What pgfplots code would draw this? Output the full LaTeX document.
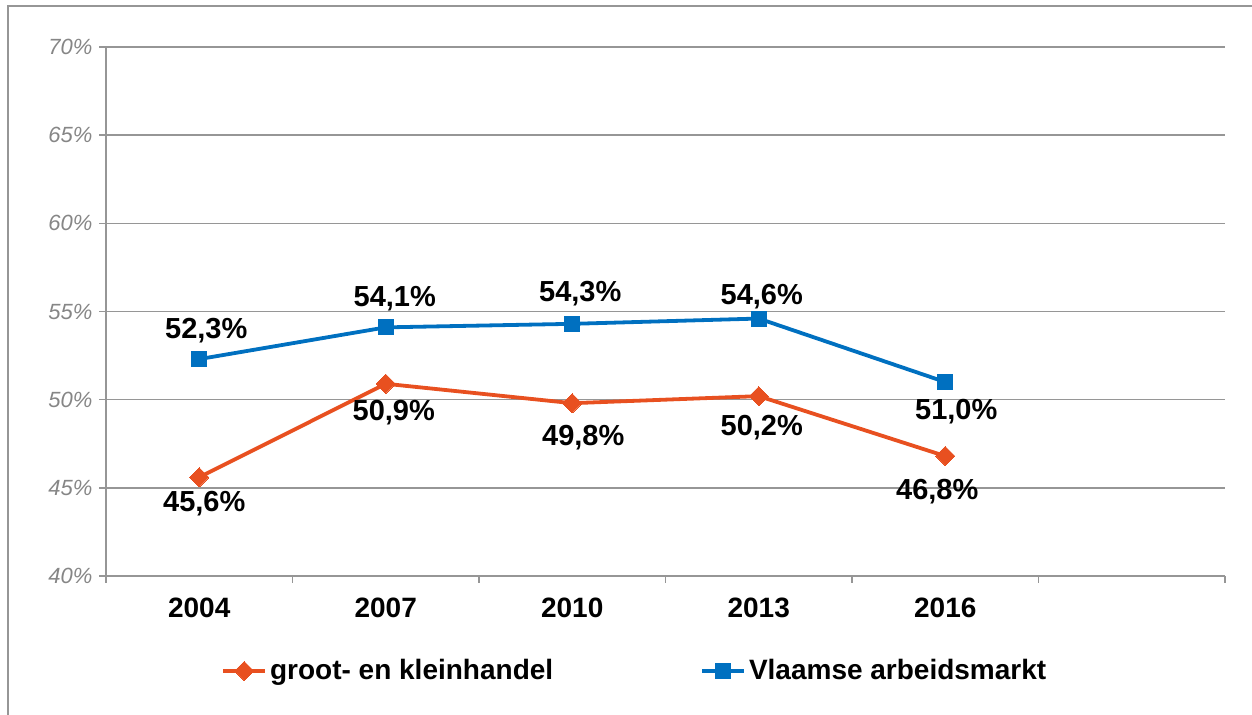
\documentclass[border=0pt]{standalone}
\usepackage{pgfplots}
\pgfplotsset{compat=1.18}
\usepackage{fontspec}
\setmainfont{Liberation Sans}

\definecolor{oranje}{RGB}{232,80,32}
\definecolor{blauw}{RGB}{0,112,192}
\definecolor{rooster}{RGB}{150,150,150}
\definecolor{labelgrijs}{RGB}{134,134,134}

% x = jaar (0 = 2004), y = aandeel in %, dx/dy = verschuiving van het label (pt)
\pgfplotstableread{
x y dx dy
0 52.3 3.5 14
1 54.1 4.5 14.5
2 54.3 4 15
3 54.6 1.5 11
4 51.0 5.5 -15
}\vlaams

\pgfplotstableread{
x y dx dy
0 45.6 2.5 -13
1 50.9 4 -14.5
2 49.8 5.5 -17
3 50.2 1.5 -15.5
4 46.8 -4 -18
}\handel

\begin{document}
\begin{tikzpicture}
\useasboundingbox (0,0) rectangle (626pt,357.5pt);
\draw[rooster, line width=0.75pt] (4pt,0) -- (4pt,354.5pt) -- (626pt,354.5pt);
\begin{axis}[
    at={(53pt,69.5pt)}, anchor=south west,
    scale only axis, width=559.5pt, height=264.5pt,
    xmin=-0.5, xmax=5.5, ymin=40, ymax=70,
    axis x line*=bottom, axis y line*=left,
    axis line style={rooster, line width=0.75pt, -},
    tick align=outside,
    xtick={-0.5,0.5,...,5.5},
    xticklabels={},
    extra x ticks={0,1,2,3,4},
    extra x tick labels={2004,2007,2010,2013,2016},
    extra x tick style={major tick length=0pt, grid=none},
    ytick={40,45,...,70},
    yticklabels={40\%,45\%,50\%,55\%,60\%,65\%,70\%},
    major tick length=3.3pt,
    tick style={rooster, line width=0.75pt},
    ymajorgrids,
    grid style={rooster, line width=0.75pt},
    xticklabel style={font=\fontsize{14}{16}\selectfont\bfseries, text=black, yshift=-7.5pt},
    yticklabel style={font=\fontsize{11}{13}\selectfont\itshape, text=labelgrijs},
    legend style={draw=none, fill=none, at={(0.473,-0.1796)}, anchor=center,
        legend columns=2, font=\fontsize{14}{16}\selectfont\bfseries,
        /tikz/every even column/.append style={column sep=72pt},
        nodes={inner sep=1.5pt}},
    legend image code/.code={\draw[#1, mark repeat=2, mark phase=2]
        plot coordinates {(0pt,0pt) (10.5pt,0pt) (21pt,0pt)};},
    nodes near coords={\pgfmathprintnumber[fixed, fixed zerofill, precision=1, use comma, assume math mode=true]{\pgfplotspointmeta}\%},
    visualization depends on={\thisrow{dx} \as \dx},
    visualization depends on={\thisrow{dy} \as \dy},
    every node near coord/.append style={anchor=center, xshift=\dx pt, yshift=\dy pt,
        font=\fontsize{14.5}{16}\selectfont\bfseries, text=black},
]
\addplot[oranje, line width=1.9pt, mark=square*, mark size=3.4pt,
    mark options={solid, rotate=45, fill=oranje, draw=oranje, line width=0pt}]
    table[x=x, y=y] {\handel};
\addlegendentry{groot- en kleinhandel}
\addplot[blauw, line width=1.9pt, mark=square*, mark size=3.75pt,
    mark options={solid, fill=blauw, draw=blauw, line width=0pt}]
    table[x=x, y=y] {\vlaams};
\addlegendentry{Vlaamse arbeidsmarkt}
\end{axis}
\end{tikzpicture}
\end{document}
